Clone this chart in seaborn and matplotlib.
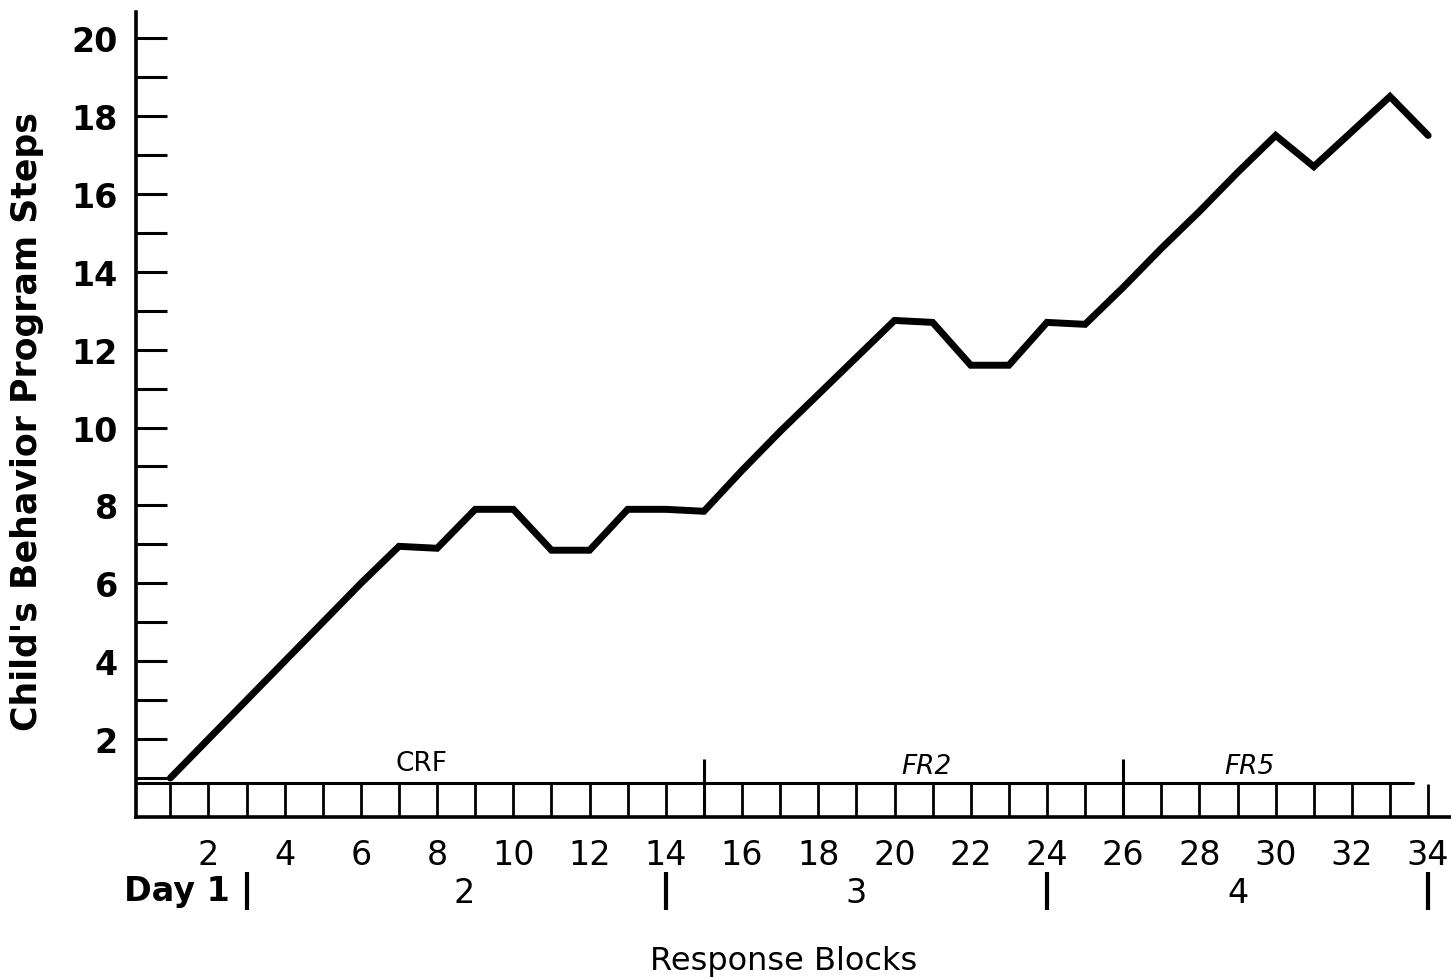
import matplotlib

matplotlib.use("Agg")
import matplotlib.pyplot as plt
import numpy as np
import seaborn as sns

# values
blocks = list(range(1, 35))
program_steps = [
    1.0, 2.0, 3.0, 4.0, 5.0, 6.0, 6.95, 6.9, 7.9, 7.9,
    6.85, 6.85, 7.9, 7.9, 7.85, 8.9, 9.9, 10.85, 11.8, 12.75,
    12.7, 11.6, 11.6, 12.7, 12.65, 13.6, 14.6, 15.55, 16.55, 17.5,
    16.7, 17.6, 18.5, 17.5,
]

phase_names = ["CRF", "FR2", "FR5"]
phase_label_x = [7.6, 20.85, 29.3]
phase_label_y = [1.38, 1.3, 1.3]
phase_breaks = [15, 26]

day_names = ["2", "3", "4"]
day_label_x = [8.7, 19.0, 29.0]
day_breaks = [3, 14, 24, 34]

x_major = np.arange(2, 35, 2)
x_minor = np.arange(1, 34, 2)
y_major = np.arange(2, 21, 2)
y_minor = np.arange(1, 20, 2)

sns.set_theme(style="ticks")
plt.rcParams["font.family"] = ["DejaVu Sans"]
plt.rcParams["text.color"] = "black"
plt.rcParams["xtick.labelcolor"] = "black"
plt.rcParams["ytick.labelcolor"] = "black"

W, H = 1451, 979
fig = plt.figure(figsize=(W / 100, H / 100), dpi=100)
ax = fig.add_axes([136 / W, 161 / H, (W - 136) / W, 805 / H])

sns.lineplot(x=blocks, y=program_steps, color="black", linewidth=5,
             solid_joinstyle="miter", ax=ax, clip_on=False)

ax.set_xlim(0.1, 34.6)
ax.set_ylim(0, 20.67)
sns.despine(ax=ax, top=True, right=True)
for side in ("left", "bottom"):
    ax.spines[side].set_linewidth(2.6)
    ax.spines[side].set_color("black")

# y axis: inward ticks at every step, labels on even steps
ax.set_yticks(y_major)
ax.set_yticks(y_minor, minor=True)
ax.set_yticklabels([str(v) for v in y_major], fontsize=24, fontweight="bold")
ax.tick_params(axis="y", which="both", direction="in", length=22, width=2.2,
               color="black", pad=13)

# x axis: the "ladder" of block ticks
ax.set_xticks(x_major)
ax.set_xticks(x_minor, minor=True)
ax.set_xticklabels([str(v) for v in x_major], fontsize=24)
ax.tick_params(axis="x", which="both", direction="in", length=24, width=2,
               color="black", pad=15)

# upper rail of the ladder and reinforcement schedule separators
ax.plot([0.1, 33.6], [0.88, 0.88], color="black", lw=2.2, clip_on=False)
ax.vlines(phase_breaks, 0, 1.5, color="black", lw=2.2)
for name, px, py in zip(phase_names, phase_label_x, phase_label_y):
    ax.text(px, py, name, fontsize=19, ha="center", va="center",
            style="italic" if name != "CRF" else "normal")

# day row below the tick labels
ax.text(2.55, -1.9, "Day 1", fontsize=24, fontweight="bold", ha="right",
        va="center", clip_on=False)
ax.vlines(day_breaks, -2.4, -1.42, color="black", lw=3, clip_on=False)
for name, dx in zip(day_names, day_label_x):
    ax.text(dx, -1.95, name, fontsize=24, ha="center", va="center", clip_on=False)

fig.text(784 / W, 1 - 962 / H, "Response Blocks", fontsize=23,
         ha="center", va="center")
fig.text(27 / W, 1 - 422 / H, "Child's Behavior Program Steps", fontsize=25,
         fontweight="bold", rotation=90, ha="center", va="center")

fig.savefig("out.png", dpi=100)
plt.close(fig)
